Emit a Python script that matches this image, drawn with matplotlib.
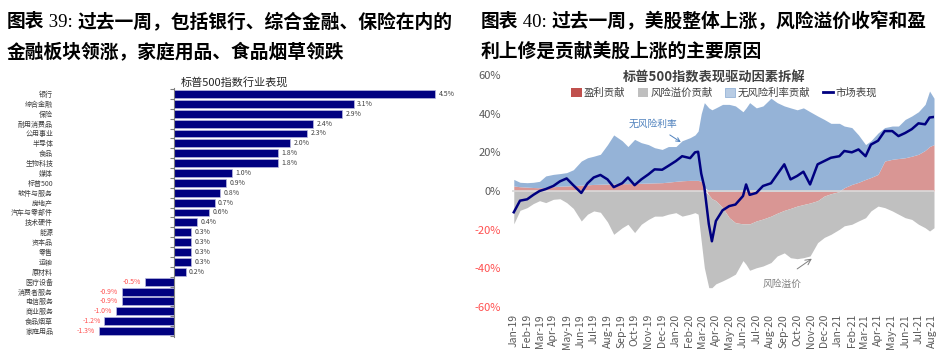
import matplotlib
matplotlib.use("Agg")
import matplotlib.pyplot as plt
import matplotlib.dates as mdates
from matplotlib.patches import Patch
from matplotlib.lines import Line2D
from matplotlib.text import Annotation
import numpy as np
import pandas as pd

plt.rcParams['font.family'] = ['Noto Sans CJK SC', 'DejaVu Sans']
plt.rcParams['axes.unicode_minus'] = False

# ---- left: S&P 500 sector returns (%) ----
sectors = ['银行', '综合金融', '保险', '耐用消费品', '公用事业', '半导体', '食品', '生物科技',
           '媒体', '标普500', '软件与服务', '房地产', '汽车与零部件', '技术硬件', '能源', '资本品',
           '零售', '运输', '原材料', '医疗设备', '消费者服务', '电信服务', '商业服务', '食品烟草',
           '家庭用品']
sector_ret = [4.5, 3.1, 2.9, 2.4, 2.3, 2.0, 1.8, 1.8, 1.0, 0.9, 0.8, 0.7, 0.6, 0.4, 0.3, 0.3,
              0.3, 0.3, 0.2, -0.5, -0.9, -0.9, -1.0, -1.2, -1.3]

# ---- right: S&P 500 performance decomposition (%) ----
dates = pd.to_datetime([
    '2019-01-02', '2019-01-16', '2019-02-01', '2019-02-15', '2019-03-01', '2019-03-15',
    '2019-04-01', '2019-04-16', '2019-05-01', '2019-05-16', '2019-06-03', '2019-06-17',
    '2019-07-01', '2019-07-16', '2019-08-01', '2019-08-15', '2019-09-03', '2019-09-16',
    '2019-10-01', '2019-10-16', '2019-11-01', '2019-11-15', '2019-12-02', '2019-12-16',
    '2020-01-02', '2020-01-16', '2020-02-03', '2020-02-14', '2020-02-21', '2020-02-28',
    '2020-03-06', '2020-03-16', '2020-03-23', '2020-04-01', '2020-04-16', '2020-05-01',
    '2020-05-15', '2020-06-01', '2020-06-08', '2020-06-16', '2020-07-01', '2020-07-16',
    '2020-08-03', '2020-08-17', '2020-09-02', '2020-09-16', '2020-10-01', '2020-10-15',
    '2020-10-30', '2020-11-16', '2020-12-01', '2020-12-16', '2021-01-04', '2021-01-15',
    '2021-02-01', '2021-02-16', '2021-03-04', '2021-03-16', '2021-04-01', '2021-04-16',
    '2021-05-03', '2021-05-17', '2021-06-01', '2021-06-16', '2021-07-01', '2021-07-16',
    '2021-07-26', '2021-08-05'])
earn = [2.6, 2.2, 2.0, 1.8, 1.7, 1.8, 2.2, 2.5, 2.6, 2.8, 3.0, 3.2,
        3.4, 3.5, 3.6, 3.7, 3.8, 3.8, 3.9, 4.0, 4.1, 4.2, 4.3, 4.6,
        5.0, 5.3, 5.5, 5.5, 5.5, 5.0, 2.0, -2.0, -4.0, -5.0, -8.6, -13.8,
        -16.4, -17.0, -17.0, -17.0, -15.5, -14.5, -13.0, -11.5, -10.0, -9.0, -7.8, -7.0,
        -6.2, -5.0, -2.6, -1.4, -0.3, 1.7, 3.4, 4.5, 6.0, 7.0, 8.6, 15.5,
        16.4, 16.8, 17.2, 18.0, 19.0, 21.0, 23.0, 24.0]
risk_prem = [-17.0, -10.0, -8.6, -6.5, -5.0, -6.0, -4.3, -4.0, -6.0, -9.0, -15.5, -12.0,
             -10.3, -11.0, -16.0, -22.4, -19.0, -17.2, -21.5, -17.2, -14.7, -13.0, -13.0, -12.0,
             -11.2, -13.0, -12.0, -11.2, -12.0, -26.0, -39.7, -48.0, -46.0, -43.0, -37.9, -31.0,
             -26.6, -19.0, -21.0, -24.0, -24.2, -24.3, -24.0, -22.1, -22.0, -25.5, -27.2, -27.5,
             -27.4, -21.7, -21.4, -21.0, -19.5, -18.0, -17.2, -15.5, -13.8, -10.3, -7.8, -8.6,
             -10.3, -12.0, -13.8, -14.7, -17.2, -19.0, -20.7, -19.0]
risk_free = [3.4, 2.3, 2.3, 2.7, 3.3, 6.0, 6.4, 6.5, 6.9, 8.2, 12.5, 14.0,
             14.6, 15.5, 20.4, 25.3, 22.2, 19.2, 22.8, 21.0, 19.9, 18.2, 17.2, 18.4,
             18.0, 20.7, 22.1, 23.5, 25.5, 35.0, 43.7, 43.0, 42.0, 43.0, 44.8, 44.8,
             44.0, 41.0, 43.0, 45.7, 43.0, 44.0, 48.0, 45.7, 44.0, 43.0, 42.0, 43.0,
             41.0, 38.8, 37.0, 35.0, 35.0, 31.9, 29.4, 24.5, 18.0, 19.0, 21.4, 17.3,
             17.2, 16.8, 19.8, 20.8, 22.0, 23.8, 28.7, 24.0]
market = [-11.0, -5.0, -4.3, -2.0, 0.0, 1.0, 2.6, 5.0, 6.5, 3.0, -1.0, 4.0,
          7.0, 8.3, 6.0, 2.0, 4.0, 7.0, 3.0, 6.0, 8.6, 11.2, 11.0, 13.0,
          15.5, 18.0, 17.0, 20.0, 20.3, 9.0, 2.0, -17.0, -26.0, -15.5, -10.0, -7.8,
          -7.0, -2.6, 3.4, -2.0, -1.0, 2.6, 4.0, 8.6, 13.8, 6.0, 7.8, 10.0,
          3.4, 13.8, 15.5, 17.2, 18.0, 20.7, 20.0, 21.5, 18.0, 24.0, 26.0, 31.0,
          31.0, 28.4, 30.0, 32.0, 35.0, 34.5, 38.0, 38.3]

fig = plt.figure(figsize=(9.48, 3.55), dpi=100)
W, H = 948, 355


def title_line(x, y, pieces):
    # pieces: list of (text, serif?) drawn one after another
    prev = None
    for txt, serif in pieces:
        kw = dict(fontsize=13.5, color='black')
        if serif:
            kw.update(family='Liberation Serif', weight='normal')
        else:
            kw.update(family=['Noto Sans CJK SC', 'DejaVu Sans'], weight='bold')
        if prev is None:
            prev = fig.text(x, y, txt, ha='left', va='bottom', **kw)
        else:
            a = Annotation(txt, xy=(1, 0), xycoords=prev, ha='left', va='bottom', **kw)
            fig.add_artist(a)
            prev = a


title_line(7 / W, 1 - 31 / H, [('图表', False), (' 39: ', True), ('过去一周，包括银行、综合金融、保险在内的', False)])
fig.text(7 / W, 1 - 61 / H, '金融板块领涨，家庭用品、食品烟草领跌', ha='left', va='bottom',
         fontsize=13.5, weight='bold', color='black')
title_line(481 / W, 1 - 31 / H, [('图表', False), (' 40: ', True), ('过去一周，美股整体上涨，风险溢价收窄和盈', False)])
fig.text(481 / W, 1 - 61 / H, '利上修是贡献美股上涨的主要原因', ha='left', va='bottom',
         fontsize=13.5, weight='bold', color='black')

# ---------- left bar chart ----------
ax1 = fig.add_axes([58 / W, 1 - 337 / H, (464 - 58) / W, (337 - 88) / H])
y = np.arange(len(sectors))
ax1.barh(y, sector_ret, height=0.8, color='#000080', edgecolor='#b8b8e0', linewidth=0.5)
ax1.set_xlim(-2, 5)
ax1.set_ylim(len(sectors) - 1 + 0.6, -0.6)
for s in ['top', 'right', 'bottom']:
    ax1.spines[s].set_visible(False)
ax1.spines['left'].set_position(('data', 0))
ax1.spines['left'].set_color('#808080')
ax1.spines['left'].set_linewidth(0.8)
ax1.set_xticks([])
ax1.set_yticks(y)
ax1.set_yticklabels(sectors, fontsize=5, color='#404040')
ax1.tick_params(axis='y', which='major', length=0, pad=87)
ax1.set_yticks(np.arange(len(sectors) + 1) - 0.5, minor=True)
ax1.tick_params(axis='y', which='minor', length=3, width=0.8, color='#808080')
for i, v in enumerate(sector_ret):
    if v >= 0:
        ax1.annotate(f'{v:.1f}%', (v, i), xytext=(2.5, 0), textcoords='offset points',
                     ha='left', va='center', fontsize=5, color='#404040')
    else:
        ax1.annotate(f'{v:.1f}%', (v, i), xytext=(-2.5, 0), textcoords='offset points',
                     ha='right', va='center', fontsize=5, color='#ff5050')
fig.text(234 / W, 1 - 83 / H, '标普500指数行业表现', ha='center', va='center', fontsize=8, color='#262626')

# ---------- right decomposition chart ----------
ax2 = fig.add_axes([512 / W, 1 - 307 / H, (934 - 512) / W, (307 - 75) / H])
e = np.array(earn)
rp = np.array(risk_prem)
rf = np.array(risk_free)
e_pos = np.maximum(e, 0)
e_neg = np.minimum(e, 0)
ax2.fill_between(dates, 0, e, color='#d99694', lw=0)
ax2.fill_between(dates, e_pos, e_pos + rf, color='#95b3d7', lw=0)
ax2.fill_between(dates, e_neg, e_neg + rp, color='#c0c0c0', lw=0)
ax2.axhline(0, color='#d9d9d9', lw=1.2)
ax2.plot(dates, market, color='#000080', lw=1.8)

ax2.set_ylim(-60, 60)
ax2.set_xlim(pd.Timestamp('2018-12-29'), pd.Timestamp('2021-08-05'))
yt = np.arange(-60, 61, 20)
ax2.set_yticks(yt)
ax2.set_yticklabels([f'{v}%' for v in yt], fontsize=8)
for lab, v in zip(ax2.get_yticklabels(), yt):
    lab.set_color('#ff5050' if v < 0 else '#595959')
ax2.tick_params(axis='y', length=0, pad=8)
ax2.xaxis.set_major_locator(mdates.MonthLocator())
ax2.xaxis.set_major_formatter(mdates.DateFormatter('%b-%y'))
ax2.tick_params(axis='x', length=0, pad=5, labelsize=7.5, labelcolor='#595959', rotation=90)
for s in ax2.spines.values():
    s.set_visible(False)

ax2.annotate('无风险利率', xy=(pd.Timestamp('2020-01-13'), 25.3), xytext=(pd.Timestamp('2019-11-12'), 34.6),
             ha='center', va='center', fontsize=7, color='#4f81bd',
             arrowprops=dict(arrowstyle='->', color='#4f81bd', lw=0.7, shrinkA=4, shrinkB=0))
ax2.annotate('风险溢价', xy=(pd.Timestamp('2020-11-03'), -35), xytext=(pd.Timestamp('2020-08-27'), -48),
             ha='center', va='center', fontsize=7, color='#7f7f7f')
ax2.annotate('', xy=(pd.Timestamp('2020-11-03'), -35), xytext=(pd.Timestamp('2020-10-01'), -40.3),
             arrowprops=dict(arrowstyle='->', color='#7f7f7f', lw=0.7, shrinkA=0, shrinkB=0))

fig.text(714 / W, 1 - 78 / H, '标普500指数表现驱动因素拆解', ha='center', va='center',
         fontsize=9.5, weight='bold', color='#404040')
handles = [Patch(facecolor='#c0504d'), Patch(facecolor='#bfbfbf'),
           Patch(facecolor='#b8cce4', edgecolor='#95b3d7', lw=0.6),
           Line2D([], [], color='#000080', lw=2)]
labels = ['盈利贡献', '风险溢价贡献', '无风险利率贡献', '市场表现']
fig.legend(handles, labels, ncol=4, loc='center', bbox_to_anchor=(724 / W, 1 - 93 / H),
           frameon=False, fontsize=7.5, handlelength=1.0, handleheight=0.9,
           handletextpad=0.2, columnspacing=1.2, labelcolor='#404040')

fig.savefig('out.png', dpi=100)
